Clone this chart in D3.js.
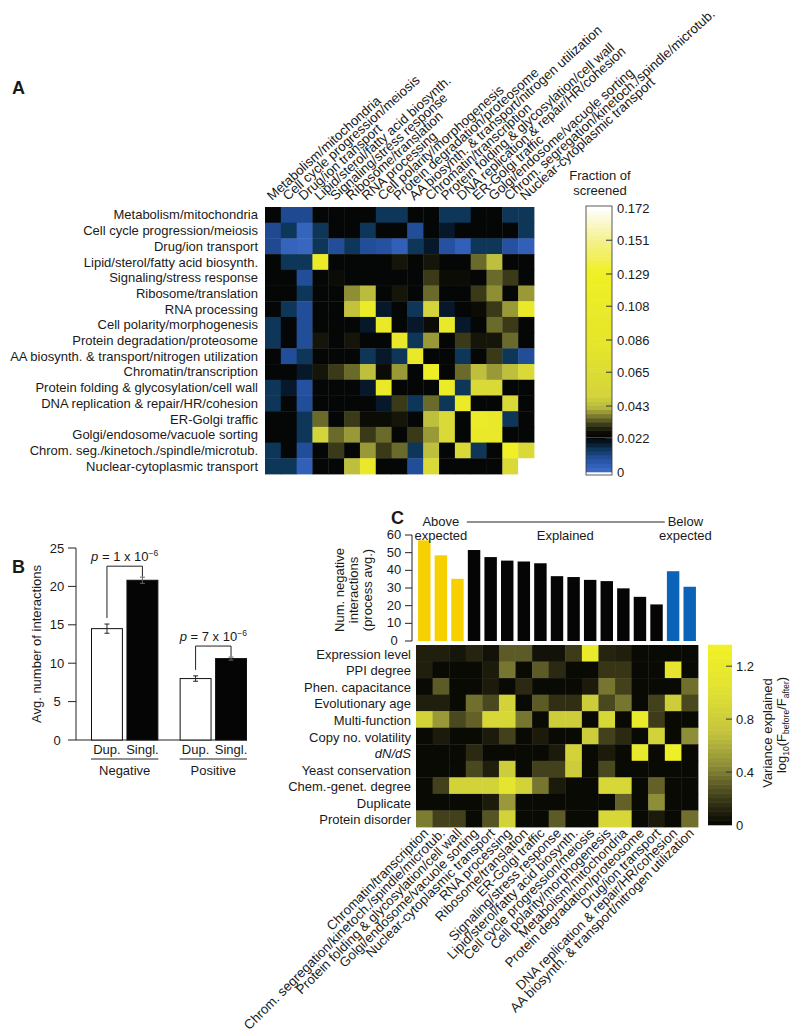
<!DOCTYPE html>
<html><head><meta charset="utf-8">
<script src="https://cdn.jsdelivr.net/npm/d3@7"></script>
<style>
body{margin:0;background:#fff}
text{font-family:"Liberation Sans",Arial,Helvetica,sans-serif;fill:#1a1a1a}
</style>
</head><body>
<svg id="chart" width="800" height="1034"></svg>
<script>
// ---------- Panel A data ----------
const rowLabelsA = ["Metabolism/mitochondria","Cell cycle progression/meiosis","Drug/ion transport","Lipid/sterol/fatty acid biosynth.","Signaling/stress response","Ribosome/translation","RNA processing","Cell polarity/morphogenesis","Protein degradation/proteosome","AA biosynth. & transport/nitrogen utilization","Chromatin/transcription","Protein folding & glycosylation/cell wall","DNA replication & repair/HR/cohesion","ER-Golgi traffic","Golgi/endosome/vacuole sorting","Chrom. seg./kinetoch./spindle/microtub.","Nuclear-cytoplasmic transport"];
const colLabelsA = ["Metabolism/mitochondria","Cell cycle progression/meiosis","Drug/ion transport","Lipid/sterol/fatty acid biosynth.","Signaling/stress response","Ribosome/translation","RNA processing","Cell polarity/morphogenesis","Protein degradation/proteosome","AA biosynth. & transport/nitrogen utilization","Chromatin/transcription","Protein folding & glycosylation/cell wall","DNA replication & repair/HR/cohesion","ER-Golgi traffic","Golgi/endosome/vacuole sorting","Chrom. segregation/kinetoch./spindle/microtub.","Nuclear-cytoplasmic transport"];
const fractionScreened = [
 [.023,.010,.010,.023,.023,.023,.023,.015,.015,.023,.023,.015,.015,.023,.023,.015,.015],
 [.010,.015,.003,.015,.023,.023,.015,.023,.023,.009,.023,.019,.023,.023,.023,.023,.015],
 [.010,.003,.002,.015,.009,.015,.009,.008,.004,.015,.019,.008,.004,.015,.015,.008,.004],
 [.023,.015,.015,.110,.023,.023,.023,.023,.027,.023,.027,.023,.023,.035,.044,.023,.023],
 [.023,.023,.009,.023,.026,.023,.023,.023,.023,.023,.031,.026,.026,.023,.035,.031,.023],
 [.023,.023,.015,.023,.023,.038,.043,.023,.027,.023,.035,.023,.023,.031,.038,.023,.039],
 [.023,.015,.009,.023,.023,.045,.110,.019,.023,.015,.050,.019,.023,.026,.031,.039,.100],
 [.015,.023,.009,.023,.023,.023,.019,.100,.023,.019,.026,.100,.019,.023,.035,.031,.023],
 [.015,.023,.009,.027,.023,.027,.023,.023,.100,.015,.039,.023,.031,.027,.027,.035,.023],
 [.023,.009,.015,.023,.023,.023,.015,.019,.015,.100,.023,.023,.015,.023,.031,.015,.009],
 [.023,.023,.019,.027,.031,.035,.044,.026,.039,.023,.120,.023,.035,.044,.039,.044,.060],
 [.015,.019,.008,.023,.023,.023,.019,.100,.023,.023,.023,.110,.015,.060,.060,.023,.023],
 [.015,.023,.009,.023,.023,.023,.023,.019,.031,.015,.035,.015,.110,.023,.023,.060,.023],
 [.023,.023,.015,.035,.023,.031,.026,.026,.027,.023,.044,.060,.023,.110,.100,.015,.023],
 [.023,.023,.015,.050,.035,.039,.031,.035,.023,.031,.039,.060,.023,.100,.100,.023,.023],
 [.015,.023,.009,.023,.031,.023,.039,.031,.035,.015,.044,.023,.060,.015,.023,.130,.060],
 [.015,.015,.004,.023,.023,.044,.100,.023,.023,.009,.060,.023,.023,.023,.023,.060,.172]
];
const legendATicks = [0,0.022,0.043,0.065,0.086,0.108,0.129,0.151,0.172];
const legendATickLabels = ["0","0.022","0.043","0.065","0.086","0.108","0.129","0.151","0.172"];

// ---------- Panel B data ----------
const interactionTypes = ["Negative","Positive"];
const geneClasses = ["Dup.","Singl."];
const avgInteractions = [[14.5,20.8],[8.0,10.6]];
const avgErrors = [[0.6,0.4],[0.35,0.2]];
const pValueMantissa = ["1","7"];
const bTicks = [0,5,10,15,20,25];

// ---------- Panel C data ----------
const processesC = ["Chromatin/transcription","Chrom. segregation/kinetoch./spindle/microtub.","Protein folding & glycosylation/cell wall","Golgi/endosome/vacuole sorting","Nuclear-cytoplasmic transport","RNA processing","Ribosome/translation","ER-Golgi traffic","Signaling/stress response","Lipid/sterol/fatty acid biosynth.","Cell cycle progression/meiosis","Cell polarity/morphogenesis","Metabolism/mitochondria","Protein degradation/proteosome","Drug/ion transport","DNA replication & repair/HR/cohesion","AA biosynth. & transport/nitrogen utilization"];
const negInteractions = [57,48.5,35.2,51.5,47.5,45.5,45,44,36.7,36.2,34.6,33.9,29.8,25.0,20.7,39.5,30.7];
const processGroup = ["above","above","above","explained","explained","explained","explained","explained","explained","explained","explained","explained","explained","explained","explained","below","below"];
const features = ["Expression level","PPI degree","Phen. capacitance","Evolutionary age","Multi-function","Copy no. volatility","dN/dS","Yeast conservation","Chem.-genet. degree","Duplicate","Protein disorder"];
const varianceExplained = [
 [0.10,0.10,0.06,0.12,0.05,0.30,0.30,0.05,0.05,0.20,1.20,0.12,0.10,0.02,0.02,0.02,0.02],
 [0.10,0.02,0.02,0.02,0.08,0.38,0.02,0.30,0.14,0.02,0.02,0.18,0.18,0.02,0.02,1.10,0.02],
 [0.02,0.30,0.02,0.02,0.08,0.02,0.14,0.02,0.02,0.02,0.08,0.38,0.22,0.02,0.02,0.02,0.36],
 [0.10,0.10,0.02,0.36,0.24,0.85,0.02,0.30,0.16,0.16,0.80,0.24,0.38,0.02,0.22,0.80,0.24],
 [0.85,0.50,0.24,0.32,0.90,0.90,0.38,0.02,0.80,0.80,0.02,0.90,0.02,1.20,0.20,0.02,0.02],
 [0.02,0.08,0.02,0.02,0.08,0.22,0.02,0.08,0.02,0.02,0.80,0.22,0.14,0.02,0.85,0.02,0.45],
 [0.02,0.02,0.02,0.14,0.02,0.02,0.02,0.02,0.08,0.85,0.02,0.08,0.02,1.20,0.02,1.30,0.02],
 [0.02,0.02,0.02,0.24,0.10,0.80,0.02,0.22,0.22,0.80,0.02,0.24,0.02,0.02,0.02,0.02,0.02],
 [0.02,0.22,0.85,0.85,0.85,1.10,0.85,0.38,0.08,0.02,0.02,0.90,0.90,0.02,0.32,0.02,0.02],
 [0.02,0.02,0.02,0.02,0.08,0.50,0.02,0.02,0.02,0.02,0.02,0.02,0.32,0.02,0.45,0.02,0.02],
 [0.40,0.22,0.22,0.02,0.28,0.85,0.02,0.02,0.30,0.02,0.02,0.90,0.90,0.02,0.08,0.02,0.36]
];
const barTicksC = [0,10,20,30,40,50,60];
const legendCTicks = [0,0.4,0.8,1.2];

// ---------- Drawing ----------
const svg = d3.select("#chart");
const FS = 13, FSR = 13.3;

// Panel letters
[["A",12,94],["B",12,573],["C",391,524]].forEach(([t,x,y])=>{
  svg.append("text").attr("x",x).attr("y",y).attr("font-size",18).attr("font-weight","bold").text(t);
});

// ===== Panel A =====
const colorA = d3.scaleLinear()
  .domain([0,0.005,0.01,0.015,0.019,0.022,0.026,0.03,0.034,0.038,0.042,0.05,0.08,0.13,0.15,0.172])
  .range(["#3f6fc8","#2f5cb4","#1f4a92","#0e3658","#06182a","#020406","#0c0c06","#2e2e14","#5e5e26","#8e8e34","#b8b83e","#d4d43c","#e4e42c","#f0f024","#f4f08a","#ffffff"])
  .clamp(true);
const xA = d3.scaleBand().domain(d3.range(17)).range([265,534]);
const yA = d3.scaleBand().domain(d3.range(17)).range([207,474]);
const gA = svg.append("g");
fractionScreened.forEach((row,i)=>{
  gA.selectAll(null).data(row).enter().append("rect")
    .attr("x",(d,j)=>xA(j)).attr("y",yA(i))
    .attr("width",xA.bandwidth()+0.4).attr("height",yA.bandwidth()+0.4)
    .attr("fill",d=>colorA(d));
});
gA.selectAll(".rl").data(rowLabelsA).enter().append("text")
  .attr("x",258).attr("y",(d,i)=>yA(i)+yA.bandwidth()/2).attr("dy","0.35em")
  .attr("text-anchor","end").attr("font-size",FS).text(d=>d);
gA.selectAll(".cl").data(colLabelsA).enter().append("text")
  .attr("transform",(d,i)=>`translate(${xA(i)+xA.bandwidth()/2-1},201) rotate(-42)`)
  .attr("font-size",FSR).text(d=>d);

// Legend A
const yLA = d3.scaleLinear().domain([0,0.172]).range([472,208]);
const lgA = svg.append("g");
const stepsA = d3.range(0,0.172,0.0027);
lgA.selectAll("rect.s").data(stepsA).enter().append("rect")
  .attr("x",586).attr("width",26)
  .attr("y",d=>yLA(Math.min(d+0.0027,0.172))-0.3)
  .attr("height",d=>yLA(d)-yLA(Math.min(d+0.0027,0.172))+0.6)
  .attr("fill",d=>colorA(d+0.00135));
lgA.append("rect").attr("x",586).attr("y",206).attr("width",26).attr("height",269)
  .attr("fill","none").attr("stroke","#333").attr("stroke-width",0.8);
lgA.append("line").attr("x1",586).attr("x2",612).attr("y1",yLA(0.0225)).attr("y2",yLA(0.0225))
  .attr("stroke","#d02020").attr("stroke-width",0.8);
lgA.selectAll(".tk").data(legendATicks.slice(1,-1)).enter().append("line")
  .attr("x1",606).attr("x2",612).attr("y1",d=>yLA(d)).attr("y2",d=>yLA(d))
  .attr("stroke","#333").attr("stroke-width",1);
lgA.selectAll(".tl").data(legendATicks).enter().append("text")
  .attr("x",617).attr("y",d=>yLA(d)).attr("dy","0.35em").attr("font-size",FS)
  .text((d,i)=>legendATickLabels[i]);
lgA.append("text").attr("x",600).attr("y",180).attr("text-anchor","middle").attr("font-size",FS).text("Fraction of");
lgA.append("text").attr("x",600).attr("y",195).attr("text-anchor","middle").attr("font-size",FS).text("screened");

// ===== Panel B =====
const yB = d3.scaleLinear().domain([0,25]).range([740,548]);
const x0B = d3.scaleBand().domain(interactionTypes).range([91,247]).paddingInner(0.24);
const x1B = d3.scaleBand().domain(geneClasses).range([0,x0B.bandwidth()]).paddingInner(0.1);
const gB = svg.append("g");
gB.append("line").attr("x1",76).attr("x2",76).attr("y1",yB(25)).attr("y2",yB(0)).attr("stroke","#222");
gB.selectAll(".tk").data(bTicks).enter().append("line")
  .attr("x1",68).attr("x2",76).attr("y1",d=>yB(d)).attr("y2",d=>yB(d)).attr("stroke","#222");
gB.selectAll(".tl").data(bTicks).enter().append("text")
  .attr("x",57).attr("y",d=>yB(d)).attr("dy","0.35em").attr("text-anchor","middle").attr("font-size",FS).text(d=>d);
gB.append("text").attr("transform","translate(41,644) rotate(-90)").attr("text-anchor","middle").attr("font-size",FS)
  .text("Avg. number of interactions");
gB.append("line").attr("x1",76).attr("x2",247).attr("y1",yB(0)).attr("y2",yB(0)).attr("stroke","#222");
interactionTypes.forEach((t,ti)=>{
  const gx = x0B(t);
  geneClasses.forEach((c,ci)=>{
    const v = avgInteractions[ti][ci], e = avgErrors[ti][ci];
    const x = gx + x1B(c), w = x1B.bandwidth(), cx = x + w/2;
    gB.append("rect").attr("x",x+0.5).attr("y",yB(v)).attr("width",w-1).attr("height",yB(0)-yB(v))
      .attr("fill",ci===0?"#fff":"#050505").attr("stroke","#111").attr("stroke-width",1);
    const ec = ci===0?"#222":"#666";
    gB.append("line").attr("x1",cx).attr("x2",cx).attr("y1",yB(v+e)).attr("y2",yB(v-e)).attr("stroke",ec);
    [v+e,v-e].forEach(vv=>gB.append("line").attr("x1",cx-2.5).attr("x2",cx+2.5).attr("y1",yB(vv)).attr("y2",yB(vv)).attr("stroke",ec));
    gB.append("text").attr("x",cx).attr("y",754).attr("text-anchor","middle").attr("font-size",FS).text(c);
  });
  gB.append("line").attr("x1",gx).attr("x2",gx+x0B.bandwidth()).attr("y1",759).attr("y2",759).attr("stroke","#222");
  gB.append("text").attr("x",gx+x0B.bandwidth()/2).attr("y",775).attr("text-anchor","middle").attr("font-size",FS).text(t);
  // p-value bracket
  const xd = gx + x1B("Dup.") + x1B.bandwidth()/2, xs = gx + x1B("Singl.") + x1B.bandwidth()/2;
  const topS = yB(avgInteractions[ti][1]+avgErrors[ti][1]);
  const topD = yB(avgInteractions[ti][0]+avgErrors[ti][0]);
  const by = topS - 11;
  gB.append("path").attr("d",`M${xd},${topD-6}V${by}H${xs}V${topS-0.5}`).attr("fill","none").attr("stroke","#222");
  const pt = gB.append("text").attr("x",(xd+xs)/2).attr("y",by-5).attr("text-anchor","middle").attr("font-size",FS);
  pt.append("tspan").attr("font-style","italic").text("p");
  pt.append("tspan").text(" = "+pValueMantissa[ti]+" x 10");
  pt.append("tspan").attr("font-size",8.5).attr("dy",-5).text("−6");
});

// ===== Panel C =====
const xC = d3.scaleBand().domain(d3.range(17)).range([416,698]);
const xCbar = d3.scaleBand().domain(d3.range(17)).range([416,698]).paddingInner(0.25).paddingOuter(0.125);
const yCbar = d3.scaleLinear().domain([0,60]).range([641,535]);
const yC = d3.scaleBand().domain(d3.range(features.length)).range([645,827]);
const colorC = d3.scaleLinear().domain([0,0.15,0.3,0.45,0.7,1.0,1.36])
  .range(["#050503","#2e2c12","#5c5a26","#8e8e38","#c4c43e","#e0e034","#f2f226"]).clamp(true);
const groupColor = {above:"#f7d000",explained:"#050505",below:"#0b63b8"};
const gC = svg.append("g");
gC.selectAll(".bar").data(negInteractions).enter().append("rect")
  .attr("x",(d,i)=>xCbar(i)).attr("width",xCbar.bandwidth())
  .attr("y",d=>yCbar(d)).attr("height",d=>yCbar(0)-yCbar(d))
  .attr("fill",(d,i)=>groupColor[processGroup[i]]);
gC.append("line").attr("x1",412).attr("x2",412).attr("y1",yCbar(60)).attr("y2",yCbar(0)).attr("stroke","#222");
gC.selectAll(".tk").data(barTicksC).enter().append("line")
  .attr("x1",405).attr("x2",412).attr("y1",d=>yCbar(d)).attr("y2",d=>yCbar(d)).attr("stroke","#222");
gC.selectAll(".tl").data(barTicksC).enter().append("text")
  .attr("x",394).attr("y",d=>yCbar(d)).attr("dy","0.32em").attr("text-anchor","middle").attr("font-size",FS).text(d=>d);
["Num. negative","interactions","(process avg.)"].forEach((t,i)=>{
  gC.append("text").attr("transform",`translate(${344+i*14},590) rotate(-90)`).attr("text-anchor","middle").attr("font-size",FS).text(t);
});
// group headers
const idxOf = g => d3.range(17).filter(i=>processGroup[i]===g);
const spanOf = g => { const ix = idxOf(g); return [xCbar(ix[0]), xCbar(ix[ix.length-1])+xCbar.bandwidth()]; };
const [ax1,ax2] = spanOf("above"), [ex1,ex2] = spanOf("explained"), [bx1,bx2] = spanOf("below");
gC.append("text").attr("x",(ax1+ax2)/2).attr("y",526).attr("text-anchor","middle").attr("font-size",FS).text("Above");
gC.append("text").attr("x",(ax1+ax2)/2).attr("y",540).attr("text-anchor","middle").attr("font-size",FS).text("expected");
gC.append("text").attr("x",(ex1+ex2)/2).attr("y",540).attr("text-anchor","middle").attr("font-size",FS).text("Explained");
gC.append("text").attr("x",(bx1+bx2)/2+4).attr("y",526).attr("text-anchor","middle").attr("font-size",FS).text("Below");
gC.append("text").attr("x",(bx1+bx2)/2+4).attr("y",540).attr("text-anchor","middle").attr("font-size",FS).text("expected");
gC.append("line").attr("x1",ex1-1).attr("x2",ex2+2).attr("y1",522).attr("y2",522).attr("stroke","#222");
// heatmap
varianceExplained.forEach((row,i)=>{
  gC.selectAll(null).data(row).enter().append("rect")
    .attr("x",(d,j)=>xC(j)).attr("y",yC(i))
    .attr("width",xC.bandwidth()+0.4).attr("height",yC.bandwidth()+0.4)
    .attr("fill",d=>colorC(d));
});
gC.selectAll(".fl").data(features).enter().append("text")
  .attr("x",411).attr("y",(d,i)=>yC(i)+yC.bandwidth()/2+1).attr("dy","0.35em")
  .attr("text-anchor","end").attr("font-size",FS)
  .attr("font-style",d=>d==="dN/dS"?"italic":"normal").text(d=>d);
gC.selectAll(".pl").data(processesC).enter().append("text")
  .attr("transform",(d,i)=>`translate(${xC(i)+xC.bandwidth()/2+5},834) rotate(-45)`)
  .attr("text-anchor","end").attr("font-size",FSR).text(d=>d);
// legend C
const yLC = d3.scaleLinear().domain([0,1.36]).range([825,645]);
const stepsC = d3.range(0,1.36,0.034);
gC.selectAll(".ls").data(stepsC).enter().append("rect")
  .attr("x",708).attr("width",24)
  .attr("y",d=>yLC(Math.min(d+0.034,1.36))-0.3).attr("height",d=>yLC(d)-yLC(Math.min(d+0.034,1.36))+0.6)
  .attr("fill",d=>colorC(d+0.017));
gC.selectAll(".ltk").data(legendCTicks.slice(1)).enter().append("line")
  .attr("x1",726).attr("x2",732).attr("y1",d=>yLC(d)).attr("y2",d=>yLC(d)).attr("stroke","#333");
gC.selectAll(".ltl").data(legendCTicks).enter().append("text")
  .attr("x",736).attr("y",d=>yLC(d)).attr("dy","0.35em").attr("font-size",FS).text(d=>d);
gC.append("text").attr("transform","translate(772,733) rotate(-90)").attr("text-anchor","middle").attr("font-size",FS).text("Variance explained");
const lt = gC.append("text").attr("transform","translate(786,725) rotate(-90)").attr("text-anchor","middle").attr("font-size",FS);
lt.append("tspan").text("log");
lt.append("tspan").attr("font-size",8.5).attr("dy",3).text("10");
lt.append("tspan").attr("dy",-3).text("(F");
lt.append("tspan").attr("font-size",8.5).attr("dy",3).text("before");
lt.append("tspan").attr("dy",-3).text("/F");
lt.append("tspan").attr("font-size",8.5).attr("dy",3).text("after");
lt.append("tspan").attr("dy",-3).text(")");
</script>
</body></html>
